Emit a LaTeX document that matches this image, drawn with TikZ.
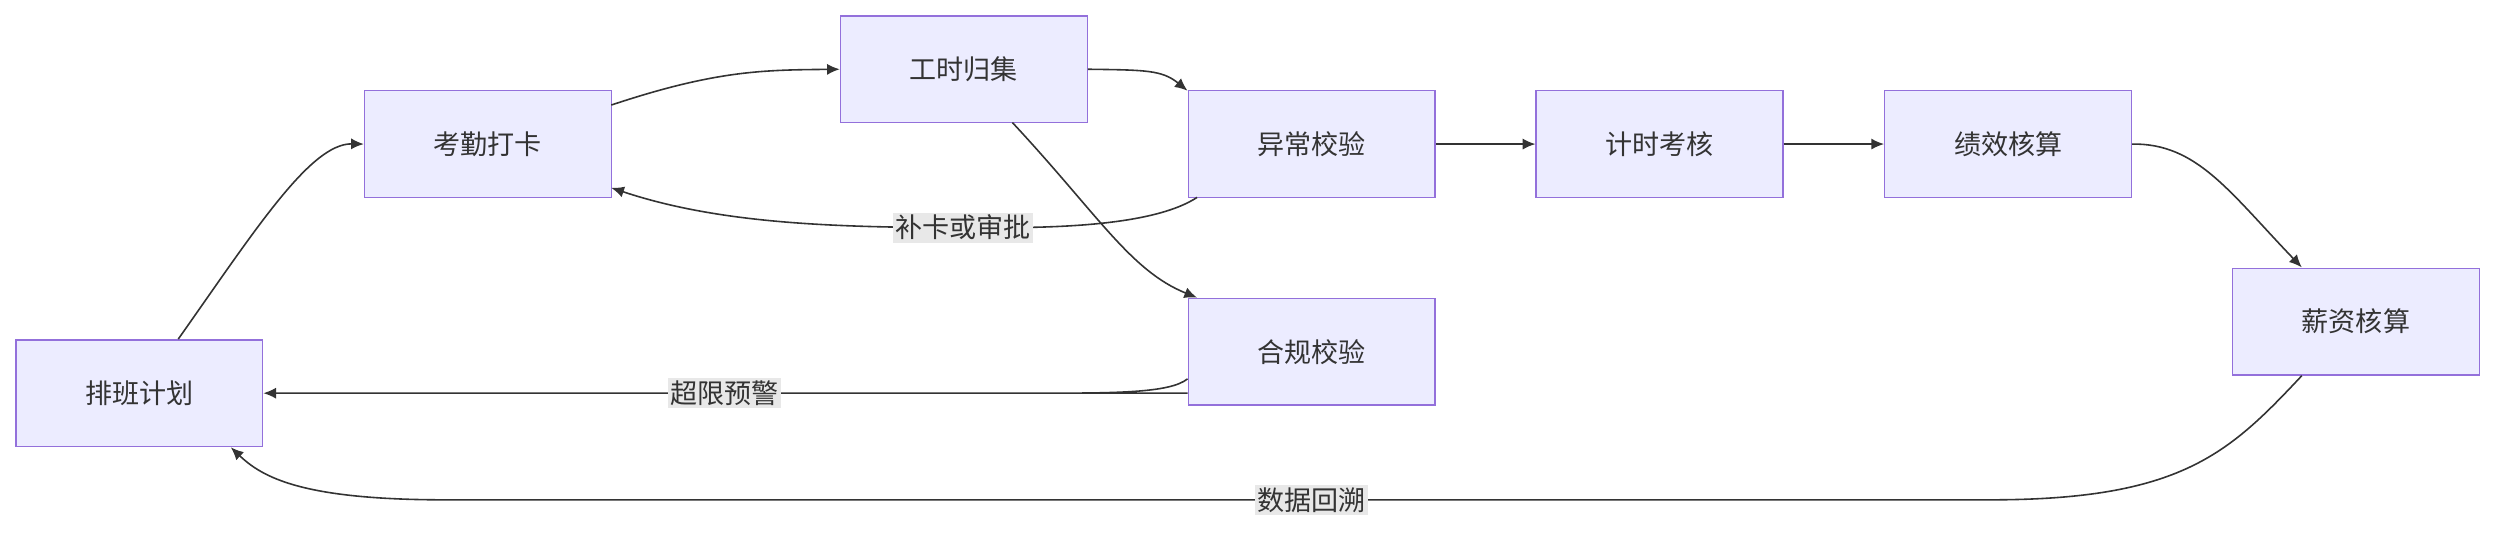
\documentclass[tikz,border=0pt]{standalone}
\usepackage{fontspec}
\setmainfont{Noto Sans CJK SC}
\usetikzlibrary{arrows.meta}
\definecolor{nfill}{HTML}{ECECFF}
\definecolor{nbord}{HTML}{9370DB}
\definecolor{ln}{HTML}{333333}
\definecolor{lbg}{HTML}{E8E8E8}
\begin{document}
\begin{tikzpicture}[x=1pt,y=-1pt,
  box/.style={draw=nbord,fill=nfill,line width=0.9pt,minimum width=155pt,minimum height=67pt,inner sep=0pt,font=\fontsize{17}{20}\selectfont,text=ln},
  con/.style={draw=ln,line width=1pt,-{Latex[length=8pt,width=7pt]}},
  lab/.style={fill=lbg,inner sep=1.5pt,font=\fontsize{17}{20}\selectfont,text=ln}]
\useasboundingbox (0,0) rectangle (1568,339);
\node[box] (pb) at (87.5,247) {排班计划};
\node[box] (kq) at (306.5,90.5) {考勤打卡};
\node[box] (gs) at (605.5,43.5) {工时归集};
\node[box] (yc) at (824,90.5) {异常校验};
\node[box] (hg) at (824,221) {合规校验};
\node[box] (js) at (1042.5,90.5) {计时考核};
\node[box] (jx) at (1261.5,90.5) {绩效核算};
\node[box] (xz) at (1480,202) {薪资核算};
\coordinate (a1) at (112,213);
\draw[con] (a1) .. controls (160,145) and (195,90) .. (kq.west);
\coordinate (a2) at (384,66);
\draw[con] (a2) .. controls (450,44) and (480,44) .. (gs.west);
\draw[con] (gs.east) .. controls (720,44) and (730,44) .. (746,57);
\coordinate (a3) at (636,77);
\draw[con] (a3) .. controls (690,135) and (710,170) .. (752,187);
\coordinate (a4) at (752,124);
\draw[con] (a4) .. controls (720,145) and (640,143) .. (605,143) .. controls (520,143) and (450,140) .. (384,118);
\node[lab] (l1) at (605,143) {补卡或审批};
\draw[con] (yc) -- (js);
\draw[con] (js) -- (jx);
\draw[con] (jx.east) .. controls (1380,90) and (1400,120) .. (1446,168);
\coordinate (a5) at (746,238);
\draw[con] (a5) .. controls (735,247) and (700,247) .. (650,247) -- (hg.west |- pb.east) -- (pb.east);
\node[lab] (l2) at (455,247) {超限预警};
\coordinate (a6) at (1446,236);
\draw[con] (a6) .. controls (1400,285) and (1370,314) .. (1250,314) -- (280,314) .. controls (190,314) and (165,300) .. (145,281);
\node[lab] (l3) at (824,314) {数据回溯};
\end{tikzpicture}
\end{document}
